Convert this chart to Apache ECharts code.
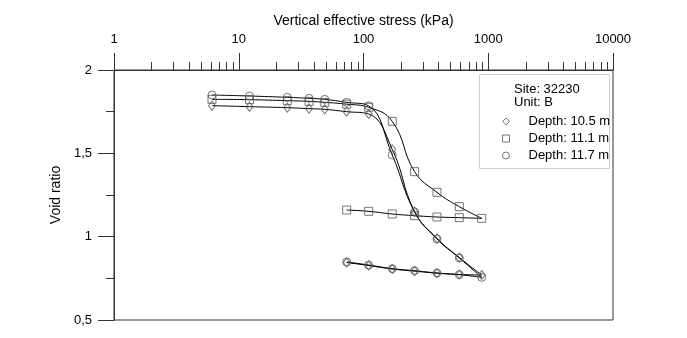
<!DOCTYPE html>
<html>
<head>
<meta charset="utf-8">
<script src="https://cdn.jsdelivr.net/npm/echarts@6/dist/echarts.min.js"></script>
<style>html,body{margin:0;padding:0;background:#fff}#c{width:687px;height:338px}</style>
</head>
<body>
<div id="c"></div>
<script>
// Stress steps (kPa)
const stressLoad   = [6.1, 12.2, 24.5, 36.6, 48.9, 73.3, 110, 170, 257, 388, 586, 886];
const stressUnload = [886, 586, 388, 257, 170, 110, 73.3];

// Depth 10.5 m (diamonds)
const d105Load   = [1.786, 1.780, 1.774, 1.768, 1.764, 1.750, 1.736, 1.524, 1.150, 0.990, 0.875, 0.770];
const d105Unload = [0.770, 0.773, 0.781, 0.793, 0.806, 0.827, 0.845];
// Depth 11.1 m (squares)
const d111Load   = [1.824, 1.822, 1.816, 1.812, 1.806, 1.795, 1.776, 1.692, 1.390, 1.266, 1.180, 1.110];
const d111Unload = [1.110, 1.114, 1.118, 1.126, 1.136, 1.152, 1.160];
// Depth 11.7 m (circles)
const d117Load   = [1.850, 1.844, 1.836, 1.830, 1.824, 1.806, 1.785, 1.490, 1.148, 0.986, 0.872, 0.756];
const d117Unload = [0.756, 0.772, 0.782, 0.796, 0.808, 0.830, 0.848];

const seriesNames = ['Depth: 10.5 m', 'Depth: 11.1 m', 'Depth: 11.7 m'];
const xTickValues = [1, 10, 100, 1000, 10000];
const xTickLabels = ['1', '10', '100', '1000', '10000'];
const yTickValues = [0.5, 1, 1.5, 2];
const yTickLabels = ['0,5', '1', '1,5', '2'];
const legendHeader = ['Site: 32230', 'Unit: B'];

const FONT = 'Liberation Sans, Arial, sans-serif';
const pair = (xs, ys) => xs.map((x, i) => [x, ys[i]]);

const groups = [
  {name: seriesNames[0], symbol: 'diamond', size: [7, 9], load: d105Load, unload: d105Unload},
  {name: seriesNames[1], symbol: 'rect', size: [8, 8], load: d111Load, unload: d111Unload},
  {name: seriesNames[2], symbol: 'circle', size: [8, 8], load: d117Load, unload: d117Unload}
];

const series = [];
groups.forEach(g => {
  [g.load, g.unload].forEach((ys, k) => {
    series.push({
      type: 'line', name: g.name + (k ? ' unload' : ' load'),
      data: pair(k ? stressUnload : stressLoad, ys),
      smooth: 0.45, showSymbol: false, silent: true,
      lineStyle: {color: '#000', width: 1}, z: 3
    });
  });
  series.push({
    type: 'scatter', name: g.name, symbol: g.symbol, symbolSize: g.size,
    data: pair(stressLoad, g.load).concat(pair(stressUnload.slice(1), g.unload.slice(1))),
    itemStyle: {color: 'rgba(255,255,255,0)', borderColor: '#555', borderWidth: 1},
    z: 4
  });
});

const chart = echarts.init(document.getElementById('c'));
chart.setOption({
  animation: false,
  backgroundColor: '#fff',
  textStyle: {fontFamily: FONT},
  grid: {left: 114, top: 70, right: 74, bottom: 18, show: true, borderColor: '#333', borderWidth: 1},
  xAxis: {
    type: 'log', logBase: 10, min: 1, max: 10000, position: 'top',
    name: 'Vertical effective stress (kPa)', nameLocation: 'middle', nameGap: 37,
    nameTextStyle: {fontSize: 14, color: '#000', fontFamily: FONT},
    axisLine: {lineStyle: {color: '#333', width: 1}},
    axisTick: {inside: false, length: 17, lineStyle: {color: '#333'}},
    minorTick: {show: true, splitNumber: 9, length: 8, lineStyle: {color: '#333'}},
    axisLabel: {fontSize: 13, color: '#000', margin: 24, fontFamily: FONT,
      formatter: v => { const i = xTickValues.findIndex(t => Math.abs(t - v) < 1e-6 * t); return i >= 0 ? xTickLabels[i] : ''; }},
    splitLine: {show: false}
  },
  yAxis: {
    type: 'value', min: 0.5, max: 2, interval: 0.5,
    name: 'Void ratio', nameLocation: 'middle', nameGap: 42, nameRotate: 90,
    nameTextStyle: {fontSize: 14, color: '#000', fontFamily: FONT},
    axisLine: {show: true, lineStyle: {color: '#333', width: 1}},
    axisTick: {show: true, inside: false, length: 16, lineStyle: {color: '#333'}},
    minorTick: {show: true, splitNumber: 2, length: 8, lineStyle: {color: '#333'}},
    axisLabel: {fontSize: 13, color: '#000', margin: 22, fontFamily: FONT,
      formatter: v => { const i = yTickValues.findIndex(t => Math.abs(t - v) < 1e-9); return i >= 0 ? yTickLabels[i] : ''; }},
    splitLine: {show: false}
  },
  legend: {
    orient: 'vertical', left: 497, top: 110,
    data: seriesNames,
    itemWidth: 7, itemHeight: 7, itemGap: 4,
    symbolKeepAspect: true,
    itemStyle: {color: '#fff', borderColor: '#555', borderWidth: 1},
    textStyle: {fontSize: 13, color: '#000', fontFamily: FONT, padding: [0, 0, 0, 14]},
    selectedMode: false
  },
  graphic: [
    {type: 'rect', left: 479, top: 74, z: 0,
      shape: {width: 130, height: 94}, style: {fill: '#fff', stroke: '#ccc', lineWidth: 1}},
    {type: 'text', left: 514, top: 83, z: 10,
      style: {text: legendHeader[0], font: '13px ' + FONT, fill: '#000'}},
    {type: 'text', left: 514, top: 96, z: 10,
      style: {text: legendHeader[1], font: '13px ' + FONT, fill: '#000'}}
  ],
  series: series
});
</script>
</body>
</html>
